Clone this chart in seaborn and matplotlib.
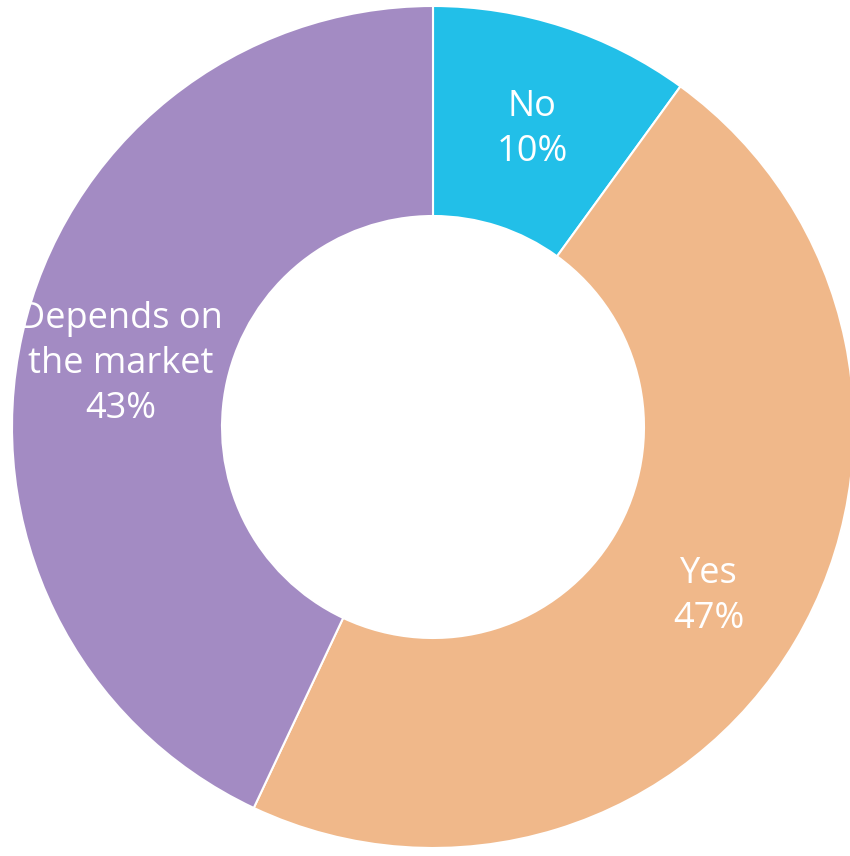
import matplotlib
matplotlib.use("Agg")
import matplotlib.pyplot as plt
import seaborn as sns

categories = ["No", "Yes", "Depends on\nthe market"]
shares = [10, 47, 43]
colors = ["#22BFE8", "#F0B88A", "#A38BC3"]

sns.set_theme(style="white")
plt.rcParams["font.family"] = ["Open Sans", "DejaVu Sans"]
palette = sns.color_palette(colors)

fig = plt.figure(figsize=(8.5, 8.56), dpi=100)
ax = fig.add_axes([0, 0, 1, 1])
ax.set_xlim(0, 850)
ax.set_ylim(0, 856)
ax.set_aspect("equal")
ax.axis("off")

lookup = dict(zip(shares, categories))


def label_fmt(pct):
    val = int(round(pct))
    return f"{lookup.get(val, '')}\n{val}%"


wedges, texts, autotexts = ax.pie(
    shares,
    colors=palette,
    startangle=90,
    counterclock=False,
    center=(433, 429),
    radius=421,
    autopct=label_fmt,
    pctdistance=0.76,
    wedgeprops=dict(width=210, edgecolor="white", linewidth=1.5),
    textprops=dict(color="white", fontsize=26),
    frame=False,
)
for t in autotexts:
    x, y = t.get_position()
    t.set_position((x, y - 7))
    t.set_linespacing(1.33)
    t.set_ha("center")
    t.set_va("center")

ax.set_xlim(0, 850)
ax.set_ylim(0, 856)
fig.savefig("out.png", dpi=100, facecolor="white")
